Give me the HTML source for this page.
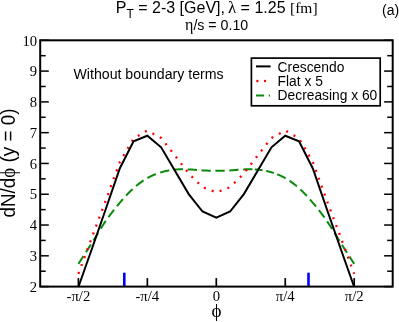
<!DOCTYPE html>
<html><head><meta charset="utf-8"><style>
html,body{margin:0;padding:0;background:#fff;}
svg{display:block;will-change:transform;}
.sans{font-family:"Liberation Sans",sans-serif;}
.serif{font-family:"Liberation Serif",serif;}
</style></head><body>
<svg width="399" height="322" viewBox="0 0 399 322">
<rect width="399" height="322" fill="#fff"/>
<g stroke="#000" stroke-width="1.5" fill="none"><line x1="40.2" y1="286.60" x2="48.800000000000004" y2="286.60"/><line x1="392.7" y1="286.60" x2="384.09999999999997" y2="286.60"/><line x1="40.2" y1="271.21" x2="45.7" y2="271.21"/><line x1="392.7" y1="271.21" x2="387.2" y2="271.21"/><line x1="40.2" y1="255.81" x2="48.800000000000004" y2="255.81"/><line x1="392.7" y1="255.81" x2="384.09999999999997" y2="255.81"/><line x1="40.2" y1="240.42" x2="45.7" y2="240.42"/><line x1="392.7" y1="240.42" x2="387.2" y2="240.42"/><line x1="40.2" y1="225.03" x2="48.800000000000004" y2="225.03"/><line x1="392.7" y1="225.03" x2="384.09999999999997" y2="225.03"/><line x1="40.2" y1="209.63" x2="45.7" y2="209.63"/><line x1="392.7" y1="209.63" x2="387.2" y2="209.63"/><line x1="40.2" y1="194.24" x2="48.800000000000004" y2="194.24"/><line x1="392.7" y1="194.24" x2="384.09999999999997" y2="194.24"/><line x1="40.2" y1="178.84" x2="45.7" y2="178.84"/><line x1="392.7" y1="178.84" x2="387.2" y2="178.84"/><line x1="40.2" y1="163.45" x2="48.800000000000004" y2="163.45"/><line x1="392.7" y1="163.45" x2="384.09999999999997" y2="163.45"/><line x1="40.2" y1="148.06" x2="45.7" y2="148.06"/><line x1="392.7" y1="148.06" x2="387.2" y2="148.06"/><line x1="40.2" y1="132.66" x2="48.800000000000004" y2="132.66"/><line x1="392.7" y1="132.66" x2="384.09999999999997" y2="132.66"/><line x1="40.2" y1="117.27" x2="45.7" y2="117.27"/><line x1="392.7" y1="117.27" x2="387.2" y2="117.27"/><line x1="40.2" y1="101.88" x2="48.800000000000004" y2="101.88"/><line x1="392.7" y1="101.88" x2="384.09999999999997" y2="101.88"/><line x1="40.2" y1="86.48" x2="45.7" y2="86.48"/><line x1="392.7" y1="86.48" x2="387.2" y2="86.48"/><line x1="40.2" y1="71.09" x2="48.800000000000004" y2="71.09"/><line x1="392.7" y1="71.09" x2="384.09999999999997" y2="71.09"/><line x1="40.2" y1="55.69" x2="45.7" y2="55.69"/><line x1="392.7" y1="55.69" x2="387.2" y2="55.69"/><line x1="40.2" y1="40.30" x2="48.800000000000004" y2="40.30"/><line x1="392.7" y1="40.30" x2="384.09999999999997" y2="40.30"/></g>
<g stroke="#000" stroke-width="1.7" fill="none"><line x1="78.40" y1="286.6" x2="78.40" y2="278.1"/><line x1="147.35" y1="286.6" x2="147.35" y2="278.1"/><line x1="216.30" y1="286.6" x2="216.30" y2="278.1"/><line x1="285.25" y1="286.6" x2="285.25" y2="278.1"/><line x1="354.20" y1="286.6" x2="354.20" y2="278.1"/></g>
<path d="M78.40,263.90 L78.58,263.62 L78.78,263.31 L78.99,262.98 L79.22,262.63 L79.46,262.25 L79.72,261.85 L79.99,261.44 L80.28,261.00 L80.57,260.54 L80.88,260.07 L81.20,259.58 L81.52,259.07 L81.86,258.55 L82.21,258.01 L82.56,257.46 L82.92,256.90 L83.29,256.33 L83.45,256.09 M85.95,252.23 L86.01,252.12 L86.41,251.50 L86.81,250.88 L87.22,250.25 L87.62,249.63 L88.02,249.01 L88.42,248.39 L88.82,247.77 L89.21,247.15 L89.60,246.55 L89.99,245.94 L90.37,245.35 L90.75,244.76 L90.97,244.40 M93.44,240.52 L93.57,240.31 L93.91,239.76 L94.26,239.20 L94.60,238.65 L94.95,238.09 L95.29,237.53 L95.64,236.96 L95.98,236.40 L96.33,235.84 L96.67,235.27 L97.02,234.71 L97.36,234.14 L97.71,233.58 L98.05,233.01 L98.31,232.60 M100.72,228.68 L100.81,228.53 L101.15,227.98 L101.50,227.43 L101.84,226.88 L102.19,226.34 L102.53,225.80 L102.88,225.26 L103.22,224.73 L103.57,224.19 L103.91,223.67 L104.26,223.14 L104.60,222.63 L104.95,222.11 L105.29,221.60 L105.64,221.10 L105.79,220.88 M108.45,217.13 L108.74,216.73 L109.08,216.26 L109.43,215.79 L109.77,215.32 L110.12,214.86 L110.46,214.40 L110.81,213.94 L111.15,213.48 L111.50,213.03 L111.84,212.58 L112.19,212.13 L112.53,211.69 L112.88,211.24 L113.22,210.80 L113.56,210.36 L113.91,209.93 L114.07,209.72 M116.96,206.15 L117.01,206.09 L117.36,205.67 L117.70,205.26 L118.05,204.84 L118.39,204.43 L118.74,204.02 L119.08,203.61 L119.43,203.21 L119.77,202.80 L120.11,202.40 L120.46,201.99 L120.80,201.59 L121.15,201.19 L121.49,200.79 L121.84,200.39 L122.18,200.00 L122.53,199.60 L122.87,199.21 L123.00,199.07 M126.08,195.65 L126.32,195.39 L126.66,195.02 L127.01,194.65 L127.35,194.29 L127.70,193.92 L128.04,193.56 L128.39,193.20 L128.73,192.85 L129.08,192.50 L129.42,192.15 L129.77,191.80 L130.11,191.46 L130.46,191.12 L130.80,190.78 L131.15,190.45 L131.49,190.12 L131.84,189.79 L132.18,189.46 L132.53,189.14 L132.62,189.05 M136.08,186.02 L136.32,185.82 L136.66,185.54 L137.01,185.26 L137.35,184.98 L137.70,184.70 L138.04,184.43 L138.39,184.16 L138.73,183.89 L139.08,183.63 L139.42,183.37 L139.77,183.11 L140.11,182.85 L140.46,182.60 L140.80,182.35 L141.14,182.10 L141.49,181.86 L141.83,181.61 L142.18,181.37 L142.52,181.14 L142.87,180.90 L143.21,180.67 L143.53,180.46 M147.45,178.04 L147.69,177.90 L148.04,177.71 L148.38,177.52 L148.73,177.33 L149.07,177.15 L149.42,176.97 L149.76,176.79 L150.11,176.62 L150.45,176.44 L150.80,176.27 L151.14,176.11 L151.49,175.95 L151.83,175.79 L152.18,175.63 L152.52,175.47 L152.87,175.32 L153.21,175.17 L153.56,175.02 L153.90,174.88 L154.25,174.74 L154.59,174.60 L154.93,174.46 L155.28,174.32 L155.62,174.19 L155.86,174.10 M160.20,172.59 L160.45,172.51 L160.80,172.41 L161.14,172.30 L161.48,172.19 L161.83,172.09 L162.17,171.99 L162.52,171.89 L162.86,171.80 L163.21,171.70 L163.55,171.61 L163.90,171.52 L164.24,171.43 L164.59,171.35 L164.93,171.26 L165.28,171.18 L165.62,171.10 L165.97,171.03 L166.31,170.95 L166.66,170.88 L167.00,170.80 L167.35,170.73 L167.69,170.67 L168.03,170.60 L168.38,170.54 L168.72,170.47 L169.07,170.41 L169.23,170.38 M173.78,169.73 L173.90,169.71 L174.24,169.67 L174.59,169.64 L174.93,169.60 L175.27,169.56 L175.62,169.53 L175.96,169.50 L176.31,169.47 L176.65,169.45 L177.00,169.42 L177.34,169.40 L177.69,169.38 L178.03,169.36 L178.38,169.35 L178.72,169.33 L179.07,169.32 L179.41,169.31 L179.76,169.30 L180.10,169.29 L180.45,169.28 L180.79,169.28 L181.14,169.27 L181.48,169.27 L181.83,169.27 L182.17,169.27 L182.51,169.27 L182.86,169.27 L183.06,169.27 M187.66,169.37 L187.69,169.37 L188.03,169.38 L188.38,169.39 L188.72,169.40 L189.06,169.41 L189.41,169.42 L189.75,169.44 L190.10,169.45 L190.44,169.47 L190.79,169.49 L191.13,169.51 L191.48,169.53 L191.82,169.56 L192.17,169.58 L192.51,169.60 L192.86,169.63 L193.20,169.66 L193.55,169.69 L193.89,169.71 L194.24,169.74 L194.58,169.77 L194.93,169.80 L195.27,169.83 L195.62,169.86 L195.96,169.89 L196.30,169.92 L196.65,169.95 L196.94,169.98 M201.53,170.34 L201.82,170.36 L202.17,170.38 L202.51,170.40 L202.85,170.42 L203.20,170.43 L203.54,170.45 L203.89,170.47 L204.23,170.48 L204.58,170.50 L204.92,170.52 L205.27,170.53 L205.61,170.55 L205.96,170.56 L206.30,170.58 L206.65,170.59 L206.99,170.60 L207.34,170.62 L207.68,170.63 L208.03,170.64 L208.37,170.65 L208.72,170.67 L209.06,170.68 L209.41,170.69 L209.75,170.70 L210.09,170.71 L210.44,170.72 L210.78,170.73 L210.82,170.73 M215.42,170.80 L215.61,170.80 L215.96,170.80 L216.30,170.80 L216.64,170.80 L216.99,170.80 L217.33,170.80 L217.68,170.80 L218.02,170.79 L218.37,170.79 L218.71,170.79 L219.06,170.78 L219.40,170.78 L219.75,170.77 L220.09,170.76 L220.44,170.76 L220.78,170.75 L221.13,170.74 L221.47,170.73 L221.82,170.73 L222.16,170.72 L222.51,170.71 L222.85,170.70 L223.19,170.69 L223.54,170.68 L223.88,170.67 L224.23,170.65 L224.57,170.64 L224.71,170.64 M229.31,170.44 L229.40,170.43 L229.75,170.42 L230.09,170.40 L230.43,170.38 L230.78,170.36 L231.12,170.34 L231.47,170.32 L231.81,170.30 L232.16,170.27 L232.50,170.25 L232.85,170.22 L233.19,170.19 L233.54,170.16 L233.88,170.14 L234.23,170.11 L234.57,170.08 L234.92,170.05 L235.26,170.02 L235.61,169.99 L235.95,169.95 L236.30,169.92 L236.64,169.89 L236.99,169.86 L237.33,169.83 L237.67,169.80 L238.02,169.77 L238.36,169.74 L238.58,169.72 M243.17,169.42 L243.19,169.42 L243.54,169.41 L243.88,169.40 L244.22,169.39 L244.57,169.38 L244.91,169.37 L245.26,169.36 L245.60,169.35 L245.95,169.34 L246.29,169.33 L246.64,169.32 L246.98,169.31 L247.33,169.31 L247.67,169.30 L248.02,169.29 L248.36,169.29 L248.71,169.28 L249.05,169.28 L249.40,169.27 L249.74,169.27 L250.09,169.27 L250.43,169.27 L250.78,169.27 L251.12,169.27 L251.46,169.27 L251.81,169.28 L252.15,169.28 L252.47,169.29 M254.77,169.37 L254.91,169.38 L255.26,169.40 L255.60,169.42 L255.95,169.45 L256.29,169.47 L256.64,169.50 L256.98,169.53 L257.33,169.56 L257.67,169.60 L258.01,169.64 L258.36,169.67 L258.70,169.71 L259.05,169.75 L259.39,169.80 L259.74,169.84 L260.08,169.88 L260.43,169.93 L260.77,169.98 L261.12,170.03 L261.46,170.08 L261.81,170.13 L262.15,170.18 L262.50,170.24 L262.52,170.24 M266.25,170.94 L266.29,170.95 L266.63,171.03 L266.98,171.10 L267.32,171.18 L267.67,171.26 L268.01,171.35 L268.36,171.43 L268.70,171.52 L269.05,171.61 L269.39,171.70 L269.74,171.80 L270.08,171.89 L270.43,171.99 L270.77,172.09 L271.12,172.19 L271.46,172.30 L271.80,172.41 L272.15,172.51 L272.49,172.62 L272.84,172.74 L273.18,172.85 L273.53,172.96 L273.76,173.04 M277.24,174.29 L277.32,174.32 L277.67,174.46 L278.01,174.60 L278.36,174.74 L278.70,174.88 L279.04,175.02 L279.39,175.17 L279.73,175.32 L280.08,175.47 L280.42,175.63 L280.77,175.79 L281.11,175.95 L281.46,176.11 L281.80,176.27 L282.15,176.44 L282.49,176.62 L282.84,176.79 L283.18,176.97 L283.53,177.15 L283.87,177.33 L284.22,177.52 L284.56,177.71 L284.91,177.90 L285.25,178.10 L285.59,178.30 L285.61,178.31 M289.51,180.76 L289.73,180.90 L290.08,181.14 L290.42,181.37 L290.77,181.61 L291.11,181.86 L291.46,182.10 L291.80,182.35 L292.14,182.60 L292.49,182.85 L292.83,183.11 L293.18,183.37 L293.52,183.63 L293.87,183.89 L294.21,184.16 L294.56,184.43 L294.90,184.70 L295.25,184.98 L295.59,185.26 L295.94,185.54 L296.28,185.82 L296.63,186.11 L296.93,186.36 M300.37,189.41 L300.42,189.46 L300.76,189.79 L301.11,190.12 L301.45,190.45 L301.80,190.78 L302.14,191.12 L302.49,191.46 L302.83,191.80 L303.18,192.15 L303.52,192.50 L303.87,192.85 L304.21,193.20 L304.56,193.56 L304.90,193.92 L305.25,194.29 L305.59,194.65 L305.94,195.02 L306.28,195.39 L306.62,195.76 L306.88,196.04 M309.95,199.47 L310.07,199.60 L310.42,200.00 L310.76,200.39 L311.11,200.79 L311.45,201.19 L311.80,201.59 L312.14,201.99 L312.49,202.40 L312.83,202.80 L313.17,203.21 L313.52,203.61 L313.86,204.02 L314.21,204.43 L314.55,204.84 L314.90,205.26 L315.24,205.67 L315.59,206.09 L315.93,206.51 L315.97,206.56 M318.86,210.14 L319.04,210.36 L319.38,210.80 L319.73,211.24 L320.07,211.69 L320.41,212.13 L320.76,212.58 L321.10,213.03 L321.45,213.48 L321.79,213.94 L322.14,214.40 L322.48,214.86 L322.83,215.32 L323.17,215.79 L323.52,216.26 L323.86,216.73 L324.21,217.20 L324.47,217.56 M327.12,221.32 L327.31,221.60 L327.65,222.11 L328.00,222.63 L328.34,223.14 L328.69,223.67 L329.03,224.19 L329.38,224.73 L329.72,225.26 L330.07,225.80 L330.41,226.34 L330.76,226.88 L331.10,227.43 L331.45,227.98 L331.79,228.53 L332.14,229.09 L332.16,229.13 M334.57,233.05 L334.89,233.58 L335.24,234.14 L335.58,234.71 L335.93,235.27 L336.27,235.84 L336.62,236.40 L336.96,236.96 L337.31,237.53 L337.65,238.09 L338.00,238.65 L338.34,239.20 L338.69,239.76 L339.03,240.31 L339.38,240.86 L339.44,240.97 M341.91,244.85 L342.23,245.35 L342.61,245.94 L343.00,246.55 L343.39,247.15 L343.78,247.77 L344.18,248.39 L344.58,249.01 L344.98,249.63 L345.38,250.25 L345.79,250.88 L346.19,251.50 L346.59,252.12 L346.94,252.67 M349.44,256.54 L349.68,256.90 L350.04,257.46 L350.39,258.01 L350.74,258.55 L351.08,259.07 L351.40,259.58 L351.72,260.07 L352.03,260.54 L352.32,261.00 L352.61,261.44 L352.88,261.85 L353.14,262.25 L353.38,262.63 L353.61,262.98 L353.82,263.31 L354.02,263.62 L354.20,263.90 " fill="none" stroke="#0a8a0a" stroke-width="2"/>
<polyline points="78.40,273.80 92.19,236.60 105.98,200.00 119.77,162.00 133.56,138.50 147.35,130.50 161.14,138.00 174.93,155.50 188.72,173.50 202.51,187.20 216.30,192.40 230.09,187.20 243.88,173.50 257.67,155.50 271.46,138.00 285.25,130.50 299.04,138.50 312.83,162.00 326.62,200.00 340.41,236.60 354.20,273.80" fill="none" stroke="#ff0000" stroke-width="2.3" stroke-dasharray="2 6.41" stroke-dashoffset="0"/>
<polyline points="78.40,287.00 92.19,248.00 105.98,208.50 119.77,168.50 133.56,141.30 147.35,135.70 161.14,147.30 174.93,170.70 188.72,194.10 202.51,211.50 216.30,217.60 230.09,211.50 243.88,194.10 257.67,170.70 271.46,147.30 285.25,135.70 299.04,141.30 312.83,168.50 326.62,208.50 340.41,248.00 354.20,287.00" fill="none" stroke="#000" stroke-width="2" stroke-linejoin="miter"/>
<g stroke="#0000ff" stroke-width="2.6"><line x1="124.3" y1="272.7" x2="124.3" y2="286.75"/><line x1="308.5" y1="272.7" x2="308.5" y2="286.75"/></g>
<rect x="40.2" y="40.3" width="352.5" height="246.3" fill="none" stroke="#000" stroke-width="2"/>
<g class="serif" font-size="14.7" fill="#000"><text x="37.2" y="291.80" text-anchor="end">2</text><text x="37.2" y="261.01" text-anchor="end">3</text><text x="37.2" y="230.23" text-anchor="end">4</text><text x="37.2" y="199.44" text-anchor="end">5</text><text x="37.2" y="168.65" text-anchor="end">6</text><text x="37.2" y="137.86" text-anchor="end">7</text><text x="37.2" y="107.08" text-anchor="end">8</text><text x="37.2" y="76.29" text-anchor="end">9</text><text x="37.2" y="45.50" text-anchor="end">10</text><text x="78.40" y="301" text-anchor="middle">-π/2</text><text x="147.35" y="301" text-anchor="middle">-π/4</text><text x="216.30" y="301" text-anchor="middle">0</text><text x="285.25" y="301" text-anchor="middle">π/4</text><text x="354.20" y="301" text-anchor="middle">π/2</text></g>
<text class="serif" x="216.5" y="317.2" font-size="19" text-anchor="middle">ϕ</text>
<text class="sans" font-size="20" transform="translate(14.8,217.6) rotate(-90) scale(0.944,1)">dN/d<tspan class="serif">ϕ</tspan> (y = 0)</text>
<text class="sans" font-size="16" x="115.8" y="12.6">P<tspan font-size="12" dy="5.5">T</tspan><tspan dy="-5.5"> = 2-3 [GeV], </tspan><tspan class="serif" font-size="17" dx="-1.5">λ</tspan> = 1.25 <tspan class="serif" font-size="15.5">[fm]</tspan></text>
<text class="sans" font-size="14.2" x="185" y="30.3"><tspan class="serif" font-size="16">η</tspan>/s = 0.10</text>
<text class="sans" font-size="14" x="382" y="14.8">(a)</text>
<text class="sans" font-size="14.15" x="73.5" y="78.5">Without boundary terms</text>
<rect x="251.4" y="58.1" width="128.8" height="47.7" fill="#fff" stroke="#000" stroke-width="1.7"/>
<line x1="256" y1="66.4" x2="270.6" y2="66.4" stroke="#000" stroke-width="2"/>
<g fill="#ff0000"><circle cx="257.4" cy="81" r="1.2"/><circle cx="265" cy="81" r="1.2"/></g>
<line x1="256" y1="95.5" x2="264" y2="95.5" stroke="#0a8a0a" stroke-width="2"/>
<line x1="268.8" y1="95.5" x2="270" y2="95.5" stroke="#0a8a0a" stroke-width="2"/>
<g class="sans" font-size="13.8" fill="#000">
<text x="277.6" y="71.8">Crescendo</text>
<text x="277.6" y="85.9">Flat x 5</text>
<text x="277.6" y="99.6">Decreasing x 60</text>
</g>
</svg>
</body></html>
